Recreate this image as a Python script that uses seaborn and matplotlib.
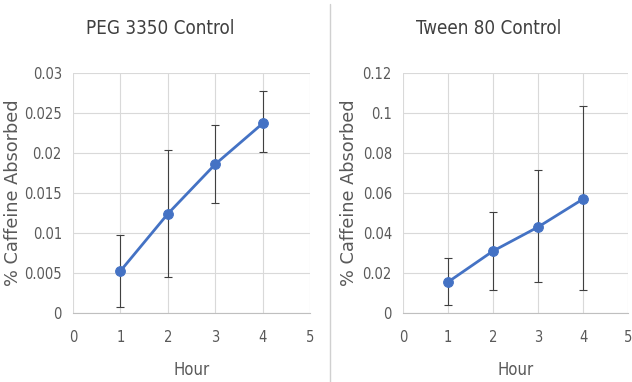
import seaborn as sns
import matplotlib.pyplot as plt
from matplotlib.lines import Line2D
import pandas as pd

hours = [1, 2, 3, 4]

# PEG 3350 control
peg_mean = [0.00525, 0.0124, 0.0186, 0.0237]
peg_err_lo = [0.0045, 0.0079, 0.0049, 0.0036]
peg_err_hi = [0.0045, 0.0080, 0.0049, 0.0041]

# Tween 80 control
tween_mean = [0.0155, 0.031, 0.043, 0.057]
tween_err_lo = [0.0115, 0.0195, 0.0275, 0.0455]
tween_err_hi = [0.0120, 0.0195, 0.0285, 0.0465]

panels = [
    ('PEG 3350 Control', peg_mean, peg_err_lo, peg_err_hi, 0.03, 0.005,
     ['0', '0.005', '0.01', '0.015', '0.02', '0.025', '0.03']),
    ('Tween 80 Control', tween_mean, tween_err_lo, tween_err_hi, 0.12, 0.02,
     ['0', '0.02', '0.04', '0.06', '0.08', '0.1', '0.12']),
]

sns.set_style('white')
plt.rcParams['font.family'] = ['DejaVu Sans']
plt.rcParams['font.stretch'] = 'condensed'

blue = '#4472C4'
grey_txt = '#595959'

fig = plt.figure(figsize=(6.32, 3.82), dpi=100)
positions = [[0.1155, 0.1806, 0.375, 0.628], [0.6377, 0.1806, 0.356, 0.628]]
title_x = [0.367, 0.382]
ylab_x = [-0.215, -0.20]

for i, (pos, (title, mean, lo, hi, ymax, step, labels)) in enumerate(zip(positions, panels)):
    ax = fig.add_axes(pos)
    df = pd.DataFrame({'Hour': hours, 'val': mean})
    ax.errorbar(hours, mean, yerr=[lo, hi], fmt='none', ecolor='#404040',
                elinewidth=0.8, capsize=3, capthick=0.8, zorder=2)
    sns.lineplot(data=df, x='Hour', y='val', ax=ax, color=blue, linewidth=2,
                 marker='o', markersize=7, markeredgecolor=blue, zorder=3)
    ax.set_xlim(0, 5)
    ax.set_ylim(0, ymax)
    ax.set_xticks(range(6))
    ax.set_xticklabels([str(k) for k in range(6)])
    yt = [round(k * step, 4) for k in range(len(labels))]
    ax.set_yticks(yt)
    ax.set_yticklabels(labels)
    ax.grid(True, color='#d9d9d9', linewidth=0.8)
    ax.set_axisbelow(True)
    for s in ['top', 'right', 'left']:
        ax.spines[s].set_visible(False)
    ax.spines['bottom'].set_color('#bfbfbf')
    ax.tick_params(axis='both', length=0, labelsize=10.5, labelcolor=grey_txt)
    ax.tick_params(axis='x', pad=12)
    ax.tick_params(axis='y', pad=8)
    ax.set_title(title, fontsize=13.5, color='#404040', pad=28, x=title_x[i])
    ax.set_xlabel('Hour', fontsize=12, color=grey_txt, labelpad=12)
    ax.set_ylabel('% Caffeine Absorbed', fontsize=12.8, color=grey_txt,
                  stretch='normal')
    ax.yaxis.set_label_coords(ylab_x[i], 0.5)

# divider between the two charts
fig.add_artist(Line2D([0.522, 0.522], [0.0, 0.99], color='#d0d0d0', linewidth=1))

plt.savefig('out.png', dpi=100)
